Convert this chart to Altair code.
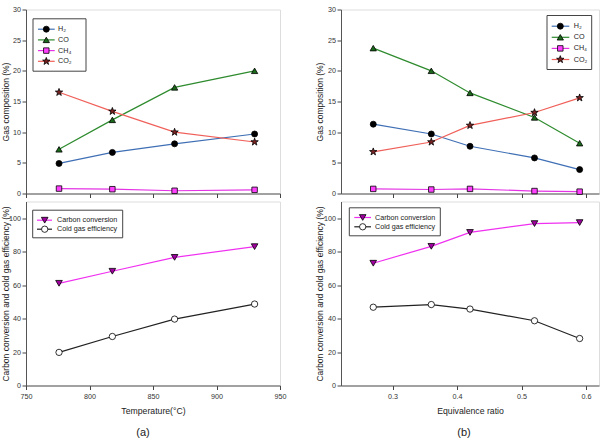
import math

import altair as alt
import pandas as pd

# ---- (a) gasification temperature series ----
temperature = [776, 818, 867, 930]
temp_h2 = [4.9, 6.7, 8.1, 9.7]
temp_co = [7.2, 12.0, 17.3, 20.0]
temp_ch4 = [0.8, 0.7, 0.45, 0.6]
temp_co2 = [16.5, 13.4, 10.0, 8.4]
temp_carbon_conv = [61.1, 68.3, 76.6, 83.0]
temp_cold_gas = [19.8, 29.3, 39.7, 48.7]

# ---- (b) equivalence ratio series ----
eq_ratio = [0.27, 0.36, 0.42, 0.52, 0.59]
er_h2 = [11.3, 9.7, 7.7, 5.8, 3.9]
er_co = [23.7, 20.0, 16.4, 12.4, 8.2]
er_ch4 = [0.75, 0.65, 0.75, 0.4, 0.3]
er_co2 = [6.8, 8.4, 11.1, 13.2, 15.6]
er_carbon_conv = [73.1, 83.2, 91.5, 96.8, 97.4]
er_cold_gas = [46.8, 48.4, 45.7, 38.7, 28.1]

gas_names = ["H₂", "CO", "CH₄", "CO₂"]
eff_names = ["Carbon conversion", "Cold gas efficiency"]

temp_ticks = [750, 800, 850, 900, 950]
er_ticks = [0.3, 0.4, 0.5, 0.6]
gas_ticks = [0, 5, 10, 15, 20, 25, 30]
eff_ticks = [0, 20, 40, 60, 80, 100]

FONT = "Liberation Sans"
PH = 184


def star_path(inner=0.4):
    pts = []
    for k in range(10):
        ang = math.radians(-90 + 36 * k)
        r = 1.0 if k % 2 == 0 else inner
        pts.append(f"{r * math.cos(ang):.3f},{r * math.sin(ang):.3f}")
    return "M" + "L".join(pts) + "Z"


STYLES = {
    "H₂": dict(line="#3F6FB5", fill="#000000", shape="circle", size=36),
    "CO": dict(line="#2E8B2E", fill="#1B6A1B", shape="triangle-up", size=40),
    "CH₄": dict(line="#E433E4", fill="#FF40FF", shape="square", size=30),
    "CO₂": dict(line="#F0605A", fill="#7A2222", shape=star_path(), size=60),
    "Carbon conversion": dict(line="#F030F0", fill="#A000A0", shape="triangle-down", size=44),
    "Cold gas efficiency": dict(line="#222222", fill="#FFFFFF", shape="circle", size=40),
}


def x_axis(title, ticks, labels):
    return alt.Axis(
        title=title, values=ticks, labels=labels, grid=False, labelFlush=False,
        tickSize=4, tickColor="#444", domainColor="#555",
        labelFont=FONT, labelFontSize=7.2, labelColor="#333", labelPadding=3,
        titleFont=FONT, titleFontSize=8.7, titleFontWeight="normal",
        titleColor="#222", titlePadding=7,
    )


def y_axis(title, ticks, title_x):
    return alt.Axis(
        title=title, values=ticks, grid=False, labelFlush=False,
        tickSize=4, tickColor="#444", domainColor="#555",
        labelFont=FONT, labelFontSize=7.2, labelColor="#333", labelPadding=1.5,
        titleFont=FONT, titleFontSize=8.5, titleFontWeight="normal",
        titleColor="#222", titleAngle=270, titleBaseline="middle", titleX=title_x,
    )


def legend_layers(names, box, rows):
    """Boxed key: line segment with marker, then the series name."""
    one = pd.DataFrame({"k": [0]})
    bx0, by0, bx1, by1 = box
    y0, dy, lx0, lx1, mx, tx = rows
    out = [
        alt.Chart(one).mark_rect(fill="white", stroke="#444", strokeWidth=1).encode(
            x=alt.value(bx0), x2=alt.value(bx1), y=alt.value(by0), y2=alt.value(by1)
        )
    ]
    for i, name in enumerate(names):
        st = STYLES[name]
        yy = y0 + i * dy
        out.append(
            alt.Chart(one).mark_rule(color=st["line"], strokeWidth=1.2).encode(
                x=alt.value(lx0), x2=alt.value(lx1), y=alt.value(yy)
            )
        )
        out.append(
            alt.Chart(one).mark_point(
                shape=st["shape"], size=st["size"], filled=True, fill=st["fill"],
                stroke="#000", strokeWidth=0.8, opacity=1,
            ).encode(x=alt.value(mx), y=alt.value(yy))
        )
        out.append(
            alt.Chart(one).mark_text(
                align="left", baseline="middle", font=FONT, fontSize=7.2, color="#222"
            ).encode(x=alt.value(tx), y=alt.value(yy), text=alt.value(name))
        )
    return out


def panel(xs, series, names, xdom, xticks, xtitle, xlabels, ydom, yticks, ytitle,
          title_x, width, box, rows, extra=None):
    xa = x_axis(xtitle, xticks, xlabels)
    ya = y_axis(ytitle, yticks, title_x)
    xs_scale = alt.Scale(domain=xdom, nice=False, zero=False)
    ys_scale = alt.Scale(domain=ydom, nice=False)
    lines, points = [], []
    for name, vals in zip(names, series):
        st = STYLES[name]
        base = alt.Chart(pd.DataFrame({"x": xs, "y": vals})).encode(
            x=alt.X("x:Q", scale=xs_scale, axis=xa),
            y=alt.Y("y:Q", scale=ys_scale, axis=ya),
        )
        lines.append(base.mark_line(color=st["line"], strokeWidth=1.2))
        points.append(
            base.mark_point(
                shape=st["shape"], size=st["size"], filled=True, fill=st["fill"],
                stroke="#000", strokeWidth=0.8, opacity=1,
            )
        )
    layers = lines + points + legend_layers(names, box, rows)
    if extra:
        layers += extra
    return alt.layer(*layers).properties(width=width, height=PH)


def caption(text, x, y):
    return alt.Chart(pd.DataFrame({"k": [0]})).mark_text(
        align="center", baseline="middle", font=FONT, fontSize=11, color="#222"
    ).encode(x=alt.value(x), y=alt.value(y), text=alt.value(text))


LW, RW = 254, 258

top_left = panel(
    temperature, [temp_h2, temp_co, temp_ch4, temp_co2], gas_names,
    [750, 950], temp_ticks, None, False, [0, 30], gas_ticks,
    "Gas composition (%)", -20.5, LW,
    (7, 9.3, 60, 61.7), (19.7, 10.7, 12, 28.7, 20.3, 32),
)
bottom_left = panel(
    temperature, [temp_carbon_conv, temp_cold_gas], eff_names,
    [750, 950], temp_ticks, "Temperature(°C)", True, [0, 110], eff_ticks,
    "Carbon conversion and cold gas efficiency (%)", -20.5, LW,
    (6.7, 8.7, 96.7, 36.3), (18.7, 9, 11, 26, 18.7, 31),
    extra=[caption("(a)", 117, 231)],
)
top_right = panel(
    eq_ratio, [er_h2, er_co, er_ch4, er_co2], gas_names,
    [0.22, 0.62], er_ticks, None, False, [0, 30], gas_ticks,
    "Gas composition (%)", -21.5, RW,
    (206, 6, 250.7, 60), (16.7, 11.1, 210.7, 228.3, 219.3, 232.7),
)
bottom_right = panel(
    eq_ratio, [er_carbon_conv, er_cold_gas], eff_names,
    [0.22, 0.62], er_ticks, "Equivalence ratio", True, [0, 110], eff_ticks,
    "Carbon conversion and cold gas efficiency (%)", -21.5, RW,
    (8.3, 6.3, 99.3, 34.3), (16, 9.3, 13.3, 30, 21.7, 34),
    extra=[caption("(b)", 123, 231)],
)

chart = (
    alt.concat(
        top_left, top_right, bottom_left, bottom_right,
        columns=2, spacing={"row": 8, "column": 61}, bounds="flush", align="each",
    )
    .properties(padding={"left": 0, "top": 4.5, "right": 0, "bottom": 0},
                background="white")
    .configure_view(stroke="#555", strokeWidth=1)
    .configure(font=FONT)
)

chart.save("out.html", embed_options={"renderer": "svg", "actions": False})
